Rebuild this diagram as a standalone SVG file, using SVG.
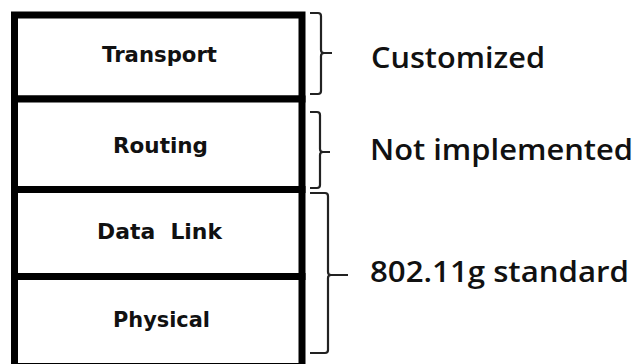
<svg xmlns="http://www.w3.org/2000/svg" width="639" height="364" viewBox="0 0 639 364">
<style>
.box{fill:#fff;stroke:#000;stroke-width:7}
.lay{font-family:"DejaVu Sans",Verdana,sans-serif;font-weight:bold;font-size:21px;fill:#111;text-anchor:middle}
.lbl{font-family:"Open Sans","Liberation Sans",sans-serif;font-weight:600;font-size:29px;fill:#111}
.br{fill:none;stroke:#222;stroke-width:2.2;stroke-linejoin:round}
</style>
<rect width="639" height="364" fill="#fff"/>
<g id="stack">
<g id="transport"><rect class="box" x="14.5" y="15" width="287.5" height="84"/><text class="lay" x="159.5" y="62" textLength="115" lengthAdjust="spacingAndGlyphs">Transport</text></g>
<g id="routing"><rect class="box" x="14.5" y="99" width="287.5" height="90.5"/><text class="lay" x="160.5" y="153" textLength="95" lengthAdjust="spacingAndGlyphs">Routing</text></g>
<g id="datalink"><rect class="box" x="14.5" y="189.5" width="287.5" height="87"/><text class="lay" x="159.5" y="239" textLength="125" lengthAdjust="spacingAndGlyphs" xml:space="preserve">Data  Link</text></g>
<g id="physical"><rect class="box" x="14.5" y="276.5" width="287.5" height="90"/><text class="lay" x="161.5" y="327" textLength="97" lengthAdjust="spacingAndGlyphs">Physical</text></g>
</g>
<g id="connectors">
<path class="br" d="M310,13 H318 Q321,13 321,16 V50 Q321,53 324,53 H332 M324,53 Q321,53 321,56 V91 Q321,94 318,94 H310"/>
<path class="br" d="M310,112 H317 Q320,112 320,115 V149 Q320,152 323,152 H330 M323,152 Q320,152 320,155 V185 Q320,188 317,188 H310"/>
<path class="br" d="M310,193 H325 Q328,193 328,196 V272 Q328,275 331,275 H348 M331,275 Q328,275 328,278 V350 Q328,353 325,353 H310"/>
</g>
<g id="labels">
<text class="lbl" x="371" y="68" textLength="174" lengthAdjust="spacingAndGlyphs">Customized</text>
<text class="lbl" x="370" y="160" textLength="263" lengthAdjust="spacingAndGlyphs">Not implemented</text>
<text class="lbl" x="370" y="282" textLength="259" lengthAdjust="spacingAndGlyphs">802.11g standard</text>
</g>
</svg>
